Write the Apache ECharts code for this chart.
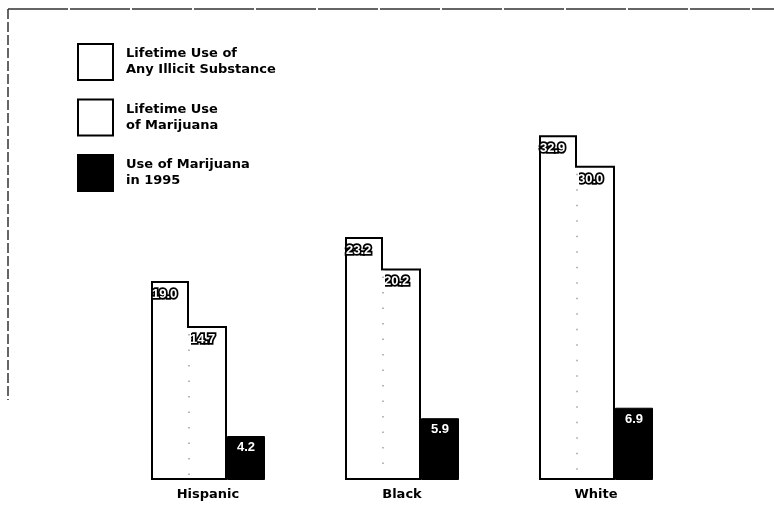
<!DOCTYPE html>
<html>
<head>
<meta charset="utf-8">
<script src="https://cdn.jsdelivr.net/npm/echarts@6/dist/echarts.min.js"></script>
<style>html,body{margin:0;padding:0;background:#fff}#c{width:774px;height:506px}</style>
</head>
<body>
<div id="c"></div>
<script>
const categories = ['Hispanic', 'Black', 'White'];
const seriesNames = ['Lifetime Use of\nAny Illicit Substance', 'Lifetime Use\nof Marijuana', 'Use of Marijuana\nin 1995'];
const anyIllicit = [19.0, 23.2, 32.9];
const marijuanaLifetime = [14.7, 20.2, 30.0];
const marijuana1995 = [4.2, 5.9, 6.9];

const BAR_W = 38;
const chart = echarts.init(document.getElementById('c'));
const outlinedLabel = {
  show: true,
  position: [1, 7],
  formatter: p => p.value.toFixed(1),
  color: '#fff',
  fontFamily: 'Liberation Sans',
  fontWeight: 'bold',
  fontSize: 13,
  textBorderColor: '#000',
  textBorderWidth: 3.5
};
chart.setOption({
  animation: false,
  backgroundColor: '#fff',
  grid: { left: 111, right: 81, top: 61, bottom: 26, containLabel: false },
  legend: {
    data: seriesNames.map(n => ({ name: n, icon: 'rect' })),
    orient: 'vertical',
    left: 77,
    top: 43,
    padding: 0,
    itemWidth: 35,
    itemHeight: 36,
    itemGap: 17.5,
    selectedMode: false,
    textStyle: {
      color: '#000',
      fontFamily: 'DejaVu Sans',
      fontWeight: 'bold',
      fontSize: 13,
      lineHeight: 16,
      padding: [6, 0, 0, 8]
    }
  },
  xAxis: {
    type: 'category',
    data: categories,
    axisLine: { show: false },
    axisTick: { show: false },
    axisLabel: {
      color: '#000',
      fontFamily: 'DejaVu Sans',
      fontWeight: 'bold',
      fontSize: 13,
      margin: 8
    }
  },
  yAxis: {
    type: 'value',
    min: 0,
    max: 40,
    show: false,
    splitLine: { show: false }
  },
  graphic: [
    { type: 'line', shape: { x1: 8, y1: 9, x2: 774, y2: 9 }, style: { stroke: '#333', lineWidth: 1.5, lineDash: [60, 2] }, silent: true },
    { type: 'line', shape: { x1: 8, y1: 9, x2: 8, y2: 400 }, style: { stroke: '#333', lineWidth: 1.5, lineDash: [10, 3] }, silent: true }
  ],
  series: [
    {
      name: seriesNames[0],
      type: 'bar',
      data: anyIllicit,
      barWidth: BAR_W,
      barGap: '0%',
      itemStyle: { color: '#fff', borderColor: '#000', borderWidth: 2 },
      label: outlinedLabel,
      z: 2
    },
    {
      name: seriesNames[1],
      type: 'bar',
      data: marijuanaLifetime,
      barWidth: BAR_W,
      barGap: '0%',
      itemStyle: { color: '#fff', borderColor: '#000', borderWidth: 2 },
      label: outlinedLabel,
      z: 3
    },
    {
      name: seriesNames[2],
      type: 'bar',
      data: marijuana1995,
      barWidth: BAR_W,
      barGap: '0%',
      itemStyle: { color: '#000', borderColor: '#000', borderWidth: 1 },
      label: {
        show: true,
        position: 'insideTop',
        distance: 5,
        formatter: p => p.value.toFixed(1),
        color: '#fff',
        fontFamily: 'Liberation Sans',
        fontWeight: 'bold',
        fontSize: 13
      },
      z: 4
    },
    {
      name: 'divider',
      type: 'custom',
      data: marijuanaLifetime.map((v, i) => [i, v]),
      encode: { x: 0, y: 1 },
      z: 5,
      silent: true,
      renderItem: function (params, api) {
        const base = api.coord([api.value(0), 0]);
        const top = api.coord([api.value(0), api.value(1)]);
        const x = base[0] - BAR_W / 2;
        return {
          type: 'group',
          children: [
            { type: 'line', shape: { x1: x, y1: top[1] + 2, x2: x, y2: base[1] - 2 }, style: { stroke: '#fff', lineWidth: 4 } },
            { type: 'line', shape: { x1: x, y1: top[1] + 8, x2: x, y2: base[1] - 4 }, style: { stroke: '#888', lineWidth: 1.2, lineDash: [1.5, 14] } }
          ]
        };
      }
    }
  ]
});
</script>
</body>
</html>
